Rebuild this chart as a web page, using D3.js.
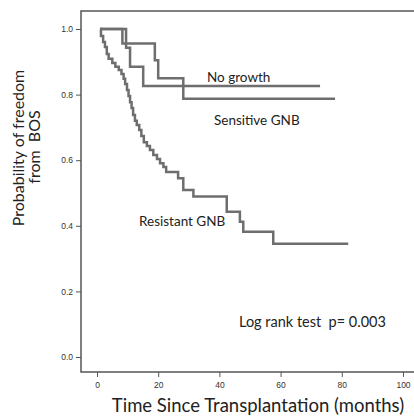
<!DOCTYPE html>
<html>
<head>
<meta charset="utf-8">
<script src="https://cdn.jsdelivr.net/npm/d3@7"></script>
<style>
  body { margin: 0; background: #fff; }
  svg { display: block; }
  .tick text { font-family: "Liberation Sans Narrow", "Liberation Sans", sans-serif; font-size: 8.5px; fill: #333; }
  .tick line { stroke: #555; }
  .lbl { font-family: Lato, "Open Sans", sans-serif; fill: #222; white-space: pre; }
</style>
</head>
<body>
<div id="container1"></div>
<script>
// Kaplan-Meier step data (months, survival)
const noGrowthT = [1, 9.5, 10.8, 15.1, 72.9];
const noGrowthS = [1, 0.943, 0.885, 0.826, 0.826];

const sensitiveT = [1, 8.3, 18.9, 20.0, 28.2, 77.8];
const sensitiveS = [1, 0.956, 0.905, 0.850, 0.787, 0.787];

const resistantT = [1, 1.3, 2.0, 2.6, 3.2, 3.8, 5.0, 6.0, 7.1, 8.0, 8.7, 9.2, 9.8, 10.3, 10.8, 11.3, 11.8,
  12.4, 13.0, 13.8, 14.5, 15.3, 16.3, 17.3, 18.4, 19.6, 20.6, 21.7, 22.6, 26.5, 28.2, 31.5, 42.4, 46.7, 47.8, 57.6, 82.1];
const resistantS = [1, 0.979, 0.960, 0.945, 0.924, 0.909, 0.896, 0.885, 0.875, 0.863, 0.848, 0.832, 0.814, 0.796, 0.777, 0.759, 0.738,
  0.720, 0.707, 0.692, 0.674, 0.655, 0.643, 0.631, 0.616, 0.604, 0.591, 0.579, 0.564, 0.545, 0.509, 0.489, 0.443, 0.412, 0.382, 0.345, 0.345];

const xTicks = [0, 20, 40, 60, 80, 100];
const yTicks = [0, 0.2, 0.4, 0.6, 0.8, 1.0];

const w = 414;
const h = 416;

const svg = d3.select("#container1")
  .append("svg")
  .attr("width", w)
  .attr("height", h);

const xScale = d3.scaleLinear().domain([0, 100]).range([97, 403]);
const yScale = d3.scaleLinear().domain([0, 1]).range([357, 29]);

// frame (right side runs off the picture)
svg.append("path")
  .attr("d", "M420,11H81V372H420")
  .attr("fill", "none")
  .attr("stroke", "#555")
  .attr("stroke-width", 1.5);

const xAxis = d3.axisBottom(xScale).tickValues(xTicks).tickSize(5).tickFormat(d3.format("d"));
const yAxis = d3.axisLeft(yScale).tickValues(yTicks).tickSize(5).tickFormat(d3.format(".1f"));

svg.append("g")
  .attr("transform", "translate(0,372)")
  .call(xAxis)
  .call(g => g.select(".domain").remove())
  .call(g => g.selectAll(".tick text").attr("dy", "0.9em"));

svg.append("g")
  .attr("transform", "translate(81,0)")
  .call(yAxis)
  .call(g => g.select(".domain").remove());

const line = d3.line()
  .x(d => xScale(d[0]))
  .y(d => yScale(d[1]))
  .curve(d3.curveStepAfter);

const series = [
  d3.zip(noGrowthT, noGrowthS),
  d3.zip(sensitiveT, sensitiveS),
  d3.zip(resistantT, resistantS)
];

svg.selectAll(".km")
  .data(series)
  .enter()
  .append("path")
  .attr("class", "km")
  .attr("d", line)
  .attr("fill", "none")
  .attr("stroke", "#6e6e6e")
  .attr("stroke-width", 2.5);

// curve labels
const labels = [
  ["No growth", 207, 82, 13.5],
  ["Sensitive GNB", 214, 125, 13.5],
  ["Resistant GNB", 139, 226, 13.5],
  ["Log rank test  p= 0.003", 239, 327, 14.5]
];
svg.selectAll(".lbl")
  .data(labels)
  .enter()
  .append("text")
  .attr("class", "lbl")
  .attr("x", d => d[1])
  .attr("y", d => d[2])
  .attr("font-size", d => d[3])
  .text(d => d[0]);

// axis titles
svg.append("text")
  .attr("class", "lbl")
  .attr("text-anchor", "middle")
  .attr("x", 258)
  .attr("y", 412)
  .attr("font-size", 18.5)
  .text("Time Since Transplantation (months)");

svg.append("text")
  .attr("class", "lbl")
  .attr("text-anchor", "middle")
  .attr("transform", "translate(24,148) rotate(-90)")
  .attr("font-size", 16)
  .text("Probability of freedom");

svg.append("text")
  .attr("class", "lbl")
  .attr("text-anchor", "middle")
  .attr("transform", "translate(40,147) rotate(-90)")
  .attr("font-size", 16)
  .text("from  BOS");
</script>
</body>
</html>
